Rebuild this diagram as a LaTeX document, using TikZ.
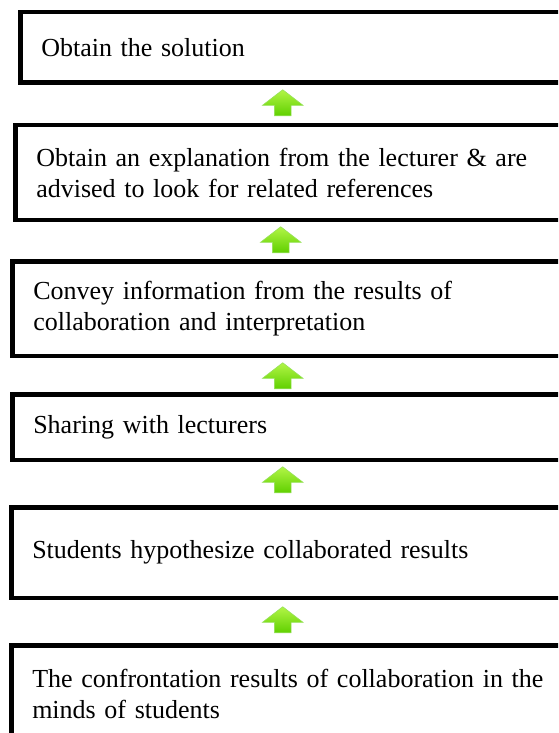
\documentclass[tikz,border=0pt]{standalone}
\usepackage{fontspec}
\setmainfont{Liberation Serif}
\usepackage{xcolor}
\usepackage{tikz}
\usetikzlibrary{positioning,shapes.arrows}

\definecolor{arrowtop}{RGB}{178,245,70}
\definecolor{arrowbot}{RGB}{96,208,0}
\definecolor{arrowrim}{RGB}{150,225,90}

\begin{document}
\begin{tikzpicture}[x=1pt, y=1pt, node distance = 40pt,
	stage/.style={draw, line width=4.5pt, outer sep=0pt, inner xsep=21pt, text width=545pt, align=left, font=\fontsize{26}{31}\selectfont},
	uparrow/.style={single arrow, shape border rotate=90, draw=arrowrim, line width=0.6pt, top color=arrowtop, bottom color=arrowbot, minimum height=26pt, minimum width=40pt, single arrow head extend=12pt, single arrow tip angle=105, inner sep=8pt, outer sep=0pt}]
	\useasboundingbox (0,0) rectangle (558,-733);
	\clip (0,0) rectangle (558,-733);
	
	\node[stage, anchor=north west, minimum height=70.5pt](sol) at (20.25,-12.25){Obtain the solution};
	\node[stage, below = 42.5pt of sol.south west, anchor=north west, xshift=-5pt, minimum height=94.5pt](expl){Obtain an explanation from the lecturer \& are\\advised to look for related references};
	\node[stage, below = 41.5pt of expl.south west, anchor=north west, xshift=-3pt, minimum height=94.5pt](conv){Convey information from the results of\\collaboration and interpretation};
	\node[stage, below = 38.5pt of conv.south west, anchor=north west, minimum height=65.5pt](share){Sharing with lecturers};
	\node[stage, below = 47.5pt of share.south west, anchor=north west, xshift=-1pt, minimum height=90.5pt](hyp){Students hypothesize collaborated results};
	\node[stage, below = 47.5pt of hyp.south west, anchor=north west, minimum height=98pt](conf){The confrontation results of collaboration in the\\minds of students};
	
	\node[uparrow, below = 7pt of sol.south, xshift=-31pt](a1){};
	\node[uparrow, below = 7pt of expl.south, xshift=-28pt](a2){};
	\node[uparrow, below = 7pt of conv.south, xshift=-23pt](a3){};
	\node[uparrow, below = 7pt of share.south, xshift=-23pt](a4){};
	\node[uparrow, below = 9pt of hyp.south, xshift=-22pt](a5){};
\end{tikzpicture}
\end{document}
